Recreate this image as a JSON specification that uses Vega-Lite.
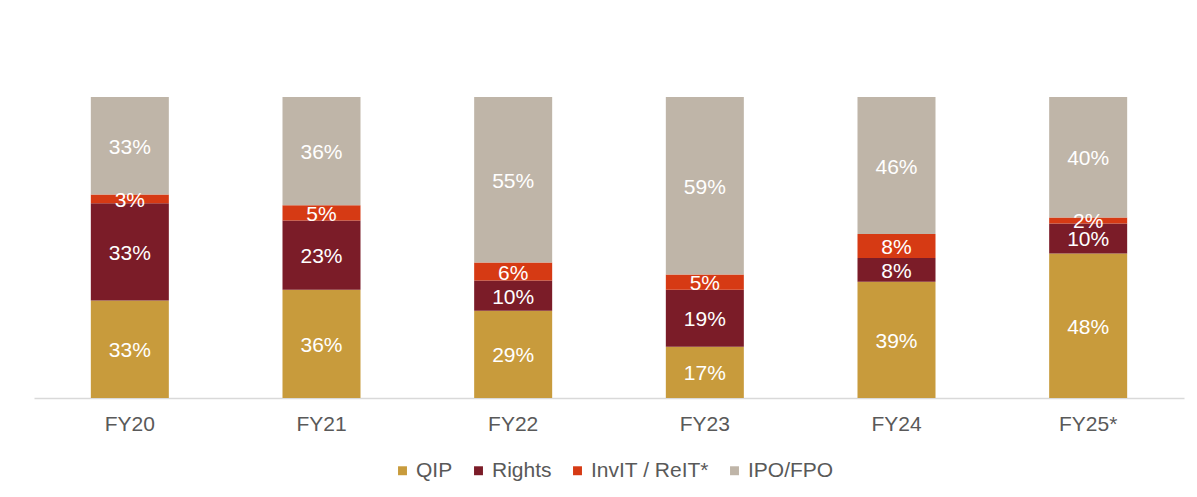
{
  "$schema": "https://vega.github.io/schema/vega-lite/v6.json",
  "autosize": {"type": "none"},
  "padding": {"left": 34, "top": 97, "right": 13, "bottom": 99},
  "width": 1150,
  "height": 301,
  "background": "white",
  "config": {
    "view": {"stroke": null},
    "font": "Liberation Sans"
  },
  "data": {
    "values": [
      {"fy": "FY20", "type": "QIP", "o": 1, "v": 0.33},
      {"fy": "FY20", "type": "Rights", "o": 2, "v": 0.33},
      {"fy": "FY20", "type": "InvIT / ReIT*", "o": 3, "v": 0.03},
      {"fy": "FY20", "type": "IPO/FPO", "o": 4, "v": 0.33},
      {"fy": "FY21", "type": "QIP", "o": 1, "v": 0.36},
      {"fy": "FY21", "type": "Rights", "o": 2, "v": 0.23},
      {"fy": "FY21", "type": "InvIT / ReIT*", "o": 3, "v": 0.05},
      {"fy": "FY21", "type": "IPO/FPO", "o": 4, "v": 0.36},
      {"fy": "FY22", "type": "QIP", "o": 1, "v": 0.29},
      {"fy": "FY22", "type": "Rights", "o": 2, "v": 0.10},
      {"fy": "FY22", "type": "InvIT / ReIT*", "o": 3, "v": 0.06},
      {"fy": "FY22", "type": "IPO/FPO", "o": 4, "v": 0.55},
      {"fy": "FY23", "type": "QIP", "o": 1, "v": 0.17},
      {"fy": "FY23", "type": "Rights", "o": 2, "v": 0.19},
      {"fy": "FY23", "type": "InvIT / ReIT*", "o": 3, "v": 0.05},
      {"fy": "FY23", "type": "IPO/FPO", "o": 4, "v": 0.59},
      {"fy": "FY24", "type": "QIP", "o": 1, "v": 0.39},
      {"fy": "FY24", "type": "Rights", "o": 2, "v": 0.08},
      {"fy": "FY24", "type": "InvIT / ReIT*", "o": 3, "v": 0.08},
      {"fy": "FY24", "type": "IPO/FPO", "o": 4, "v": 0.46},
      {"fy": "FY25*", "type": "QIP", "o": 1, "v": 0.48},
      {"fy": "FY25*", "type": "Rights", "o": 2, "v": 0.10},
      {"fy": "FY25*", "type": "InvIT / ReIT*", "o": 3, "v": 0.02},
      {"fy": "FY25*", "type": "IPO/FPO", "o": 4, "v": 0.40}
    ]
  },
  "transform": [
    {"stack": "v", "groupby": ["fy"], "sort": [{"field": "o", "order": "ascending"}], "offset": "normalize", "as": ["y0", "y1"]}
  ],
  "encoding": {
    "x": {
      "field": "fy", "type": "nominal", "sort": null, "title": null,
      "scale": {"paddingInner": 0.593, "paddingOuter": 0.2965},
      "axis": {
        "labelAngle": 0, "labelFontSize": 21, "labelColor": "#595959",
        "labelPadding": 15, "ticks": false, "domainColor": "#d9d9d9", "domainWidth": 1.5
      }
    }
  },
  "layer": [
    {
      "mark": {"type": "bar"},
      "encoding": {
        "y": {"field": "y0", "type": "quantitative", "scale": {"domain": [0, 1]}, "axis": null},
        "y2": {"field": "y1"},
        "color": {
          "field": "type", "type": "nominal",
          "scale": {
            "domain": ["QIP", "Rights", "InvIT / ReIT*", "IPO/FPO"],
            "range": ["#C89B3C", "#7B1C28", "#D63A14", "#BFB5A8"]
          },
          "legend": {
            "title": null, "orient": "none", "direction": "horizontal",
            "legendX": 358, "legendY": 363,
            "symbolType": "square", "symbolSize": 80, "symbolStrokeWidth": 0,
            "labelFontSize": 21, "labelColor": "#595959", "labelOffset": 3,
            "columnPadding": 15
          }
        }
      }
    },
    {
      "transform": [
        {"fold": ["y0", "y1"], "as": ["edge", "pos"]},
        {"aggregate": [{"op": "mean", "field": "pos", "as": "mid"}], "groupby": ["fy", "type", "v"]}
      ],
      "mark": {"type": "text", "color": "white", "fontSize": 21, "baseline": "middle", "align": "center", "dy": 2},
      "encoding": {
        "y": {"field": "mid", "type": "quantitative", "scale": {"domain": [0, 1]}, "axis": null},
        "text": {"field": "v", "type": "quantitative", "format": ".0%"}
      }
    }
  ]
}
